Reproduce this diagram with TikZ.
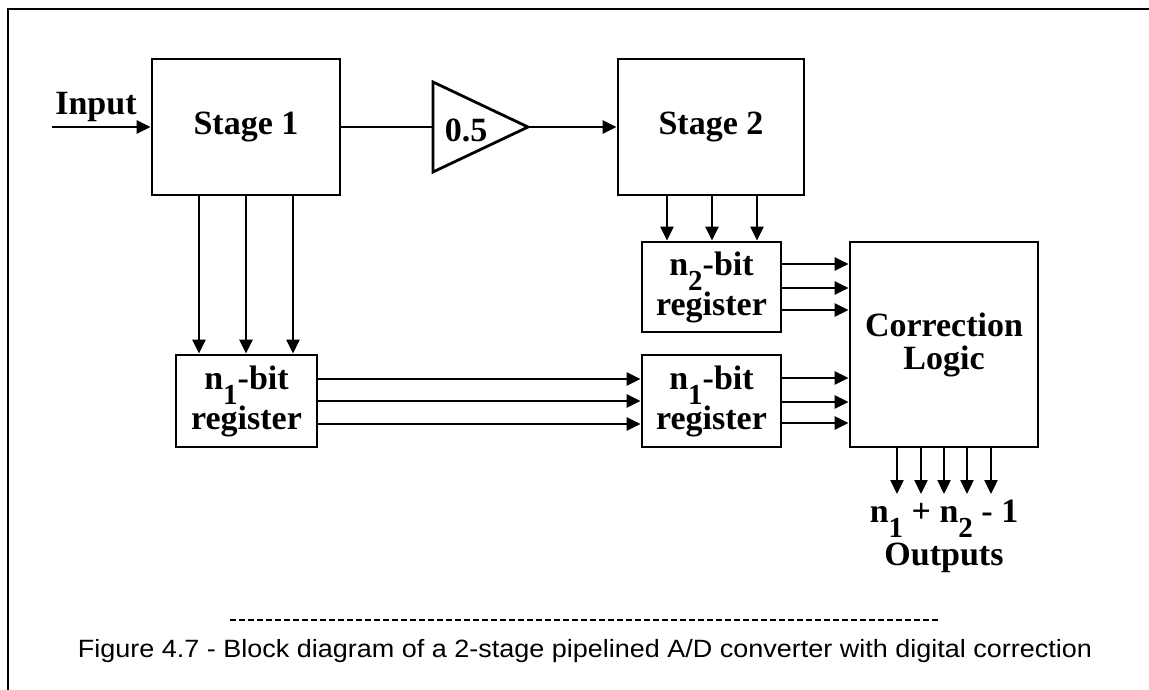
\documentclass[tikz,border=0pt]{standalone}
\usepackage{fontspec}
\usepackage{graphicx}
\setmainfont{Liberation Serif}
\newfontfamily\capfont{Liberation Sans}
\usetikzlibrary{arrows.meta,calc}
\newcommand\lowsub[1]{\smash{\raisebox{-15pt}{\fontsize{29}{29}\selectfont #1}}}
\newcommand\lblfont{\fontsize{34}{40}\selectfont\bfseries}
\tikzset{
  blk/.style={draw, line width=2.8pt, inner sep=0pt, align=center, font=\lblfont},
  arr/.style={line width=2.4pt, -{Triangle[length=14pt,width=13pt]}},
  wire/.style={line width=2.4pt},
  txt/.style={inner sep=0pt, align=center, font=\lblfont},
}
\begin{document}
\begin{tikzpicture}[x=1pt,y=-1pt]
\useasboundingbox (0,0) rectangle (1149,690);
% frame
\coordinate (fa) at (8,690);
\coordinate (fb) at (8,9);
\coordinate (fc) at (1149,9);
\draw[line width=2.8pt] (fa) -- (fb) -- (fc);

% blocks
\node[blk, minimum width=188pt, minimum height=136pt] (s1) at (246,127) {Stage 1};
\node[blk, minimum width=186pt, minimum height=136pt] (s2) at (711,127) {Stage 2};
\node[blk, minimum width=139pt, minimum height=90pt] (r2) at (711.5,287) {n\lowsub{2}-bit\\register};
\node[blk, minimum width=141pt, minimum height=92pt] (r1a) at (246.5,401) {n\lowsub{1}-bit\\register};
\node[blk, minimum width=139pt, minimum height=92pt] (r1b) at (711.5,401) {n\lowsub{1}-bit\\register};
\node[blk, minimum width=188pt, minimum height=205pt, font={\fontsize{34}{33}\selectfont\bfseries}] (corr) at (944,344.5) {Correction\\Logic};

% input
\coordinate (in) at (52,127);
\node[txt, anchor=base] (inlbl) at (96,115) {Input};
\draw[arr] (in) -- (s1.west);

% amplifier
\coordinate (ampin) at (433,127);
\coordinate (ampout) at (528,127);
\coordinate (amptop) at (433,82);
\coordinate (ampbot) at (433,172);
\draw[line width=2.8pt, line join=miter] (amptop) -- (ampout) -- (ampbot) -- cycle;
\node[txt] (gain) at (466,130) {0.5};
\draw[wire] (s1.east) -- (ampin);
\draw[arr] (ampout) -- (s2.west);

% stage 1 -> register
\foreach \dx in {-47,0,47} {
  \path ($(s1.south)+(\dx,0)$) coordinate (p);
  \draw[arr] (p) -- (p |- r1a.north);
}
% stage 2 -> register
\foreach \dx in {-44,1,46} {
  \path ($(s2.south)+(\dx,0)$) coordinate (p);
  \draw[arr] (p) -- (p |- r2.north);
}
% n2 register -> correction
\foreach \dy in {-23,1,23} {
  \path ($(r2.east)+(0,\dy)$) coordinate (p);
  \draw[arr] (p) -- (p -| corr.west);
}
% n1 register -> n1 register
\foreach \dy in {-22,0,23} {
  \path ($(r1a.east)+(0,\dy)$) coordinate (p);
  \draw[arr] (p) -- (p -| r1b.west);
}
% n1 register -> correction
\foreach \dy in {-23,1,22} {
  \path ($(r1b.east)+(0,\dy)$) coordinate (p);
  \draw[arr] (p) -- (p -| corr.west);
}
% outputs
\coordinate (outlevel) at (944,494);
\foreach \dx in {-47,-23,0,23,47} {
  \path ($(corr.south)+(\dx,0)$) coordinate (p);
  \draw[arr] (p) -- (p |- outlevel);
}
\node[txt, font={\fontsize{34}{43}\selectfont\bfseries}] (outlbl) at (944,536) {n\lowsub{1} + n\lowsub{2} - 1\\Outputs};

% caption
\coordinate (da) at (230,620);
\coordinate (db) at (940,620);
\draw[line width=2.2pt, dash pattern=on 6pt off 3pt] (da) -- (db);
\node[inner sep=0pt, anchor=base, font={\capfont\fontsize{25}{30}\selectfont}] (cap) at (585,657)
  {\resizebox{1014pt}{\height}{Figure 4.7 - Block diagram of a 2-stage pipelined A/D converter with digital correction}};
\end{tikzpicture}
\end{document}
